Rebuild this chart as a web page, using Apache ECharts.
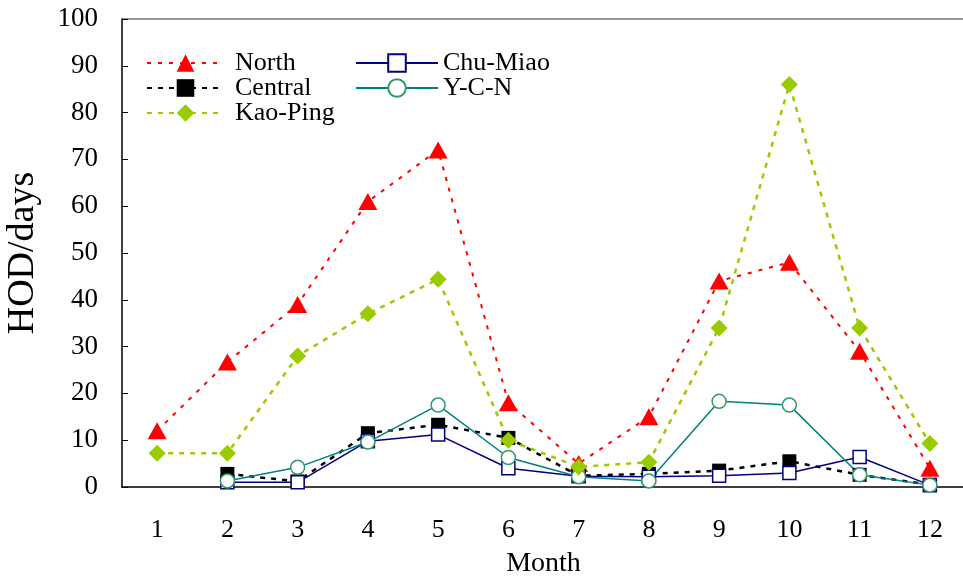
<!DOCTYPE html>
<html>
<head>
<meta charset="utf-8">
<script src="https://cdn.jsdelivr.net/npm/echarts@6/dist/echarts.min.js"></script>
<style>
  html, body { margin: 0; padding: 0; background: #fff; }
  #chart { width: 963px; height: 579px; }
</style>
</head>
<body>
<div id="chart"></div>
<script>
var months = ['1', '2', '3', '4', '5', '6', '7', '8', '9', '10', '11', '12'];
var north = [12, 26.7, 39, 61, 72, 18, 5, 15, 44, 48, 29, 4];
var central = ['-', 2.8, 1.2, 11.5, 13.3, 10.5, 2.4, 2.8, 3.5, 5.5, 2.6, 0.5];
var kaoPing = [7.2, 7.2, 28, 37, 44.4, 10, 4.3, 5.3, 34, 86, 34, 9.3];
var chuMiao = ['-', 1, 1, 9.8, 11.2, 4, 2.3, 2.2, 2.4, 3, 6.4, 0.4];
var ycn = ['-', 1.3, 4.2, 9.6, 17.5, 6.3, 2.2, 1.3, 18.3, 17.5, 2.6, 0.4];

var font = 'Liberation Serif';
var chart = echarts.init(document.getElementById('chart'));

var option = {
    animation: false,
    textStyle: { fontFamily: font, color: '#000' },
    grid: { left: 122, top: 19, width: 843, height: 468, outerBoundsMode: 'none', containLabel: false },
    legend: [{
        orient: 'vertical',
        left: 141, top: 45,
        itemWidth: 77, itemHeight: 22, itemGap: -1,
        textStyle: { fontFamily: font, fontSize: 26, color: '#000', padding: [0, 0, 0, 6] },
        data: ['North', 'Central', 'Kao-Ping']
    }, {
        orient: 'vertical',
        left: 350, top: 45,
        itemWidth: 82, itemHeight: 22, itemGap: -1,
        textStyle: { fontFamily: font, fontSize: 26, color: '#000', padding: [0, 0, 0, 0] },
        data: ['Chu-Miao', 'Y-C-N']
    }],
    xAxis: [{
        type: 'category',
        data: months,
        name: 'Month',
        nameLocation: 'middle',
        nameGap: 63,
        nameTextStyle: { fontFamily: font, fontSize: 28, color: '#000' },
        axisLine: { lineStyle: { color: '#000', width: 1.5 } },
        axisTick: { inside: true, length: 6, lineStyle: { color: '#000' } },
        axisLabel: { fontFamily: font, fontSize: 26, color: '#000', margin: 30 }
    }, {
        type: 'category',
        position: 'top',
        data: months,
        axisLine: { lineStyle: { color: '#777', width: 1.5 } },
        axisTick: { show: false },
        axisLabel: { show: false }
    }],
    yAxis: {
        type: 'value',
        min: 0, max: 100, interval: 10,
        name: 'HOD/days',
        nameLocation: 'middle',
        nameGap: 80,
        nameTextStyle: { fontFamily: font, fontSize: 38, color: '#000' },
        axisLine: { show: true, lineStyle: { color: '#000', width: 1.5 } },
        axisTick: { show: true, inside: true, length: 6, lineStyle: { color: '#000' } },
        axisLabel: { fontFamily: font, fontSize: 27, color: '#000', margin: 24 },
        splitLine: { show: false }
    },
    series: [{
        name: 'North',
        type: 'line',
        data: north,
        symbol: 'triangle',
        symbolSize: [19, 17],
        itemStyle: { color: '#ff0000' },
        lineStyle: { color: '#ff0000', width: 2, type: [4, 7] }
    }, {
        name: 'Central',
        type: 'line',
        data: central,
        symbol: 'rect',
        symbolSize: 14,
        itemStyle: { color: '#000' },
        lineStyle: { color: '#000', width: 2.5, type: [5, 6] }
    }, {
        name: 'Chu-Miao',
        type: 'line',
        data: chuMiao,
        symbol: 'rect',
        symbolSize: 13,
        itemStyle: { color: '#fff', borderColor: '#000080', borderWidth: 1.5 },
        lineStyle: { color: '#000080', width: 1.5 }
    }, {
        name: 'Y-C-N',
        type: 'line',
        data: ycn,
        symbol: 'circle',
        symbolSize: 14,
        itemStyle: { color: '#fff', borderColor: '#339966', borderWidth: 1.5 },
        lineStyle: { color: '#008080', width: 1.5 }
    }, {
        name: 'Kao-Ping',
        type: 'line',
        data: kaoPing,
        symbol: 'diamond',
        symbolSize: [17, 17],
        itemStyle: { color: '#99cc00' },
        lineStyle: { color: '#99cc00', width: 2.5, type: [5, 6] }
    }]
};

chart.setOption(option);
</script>
</body>
</html>
